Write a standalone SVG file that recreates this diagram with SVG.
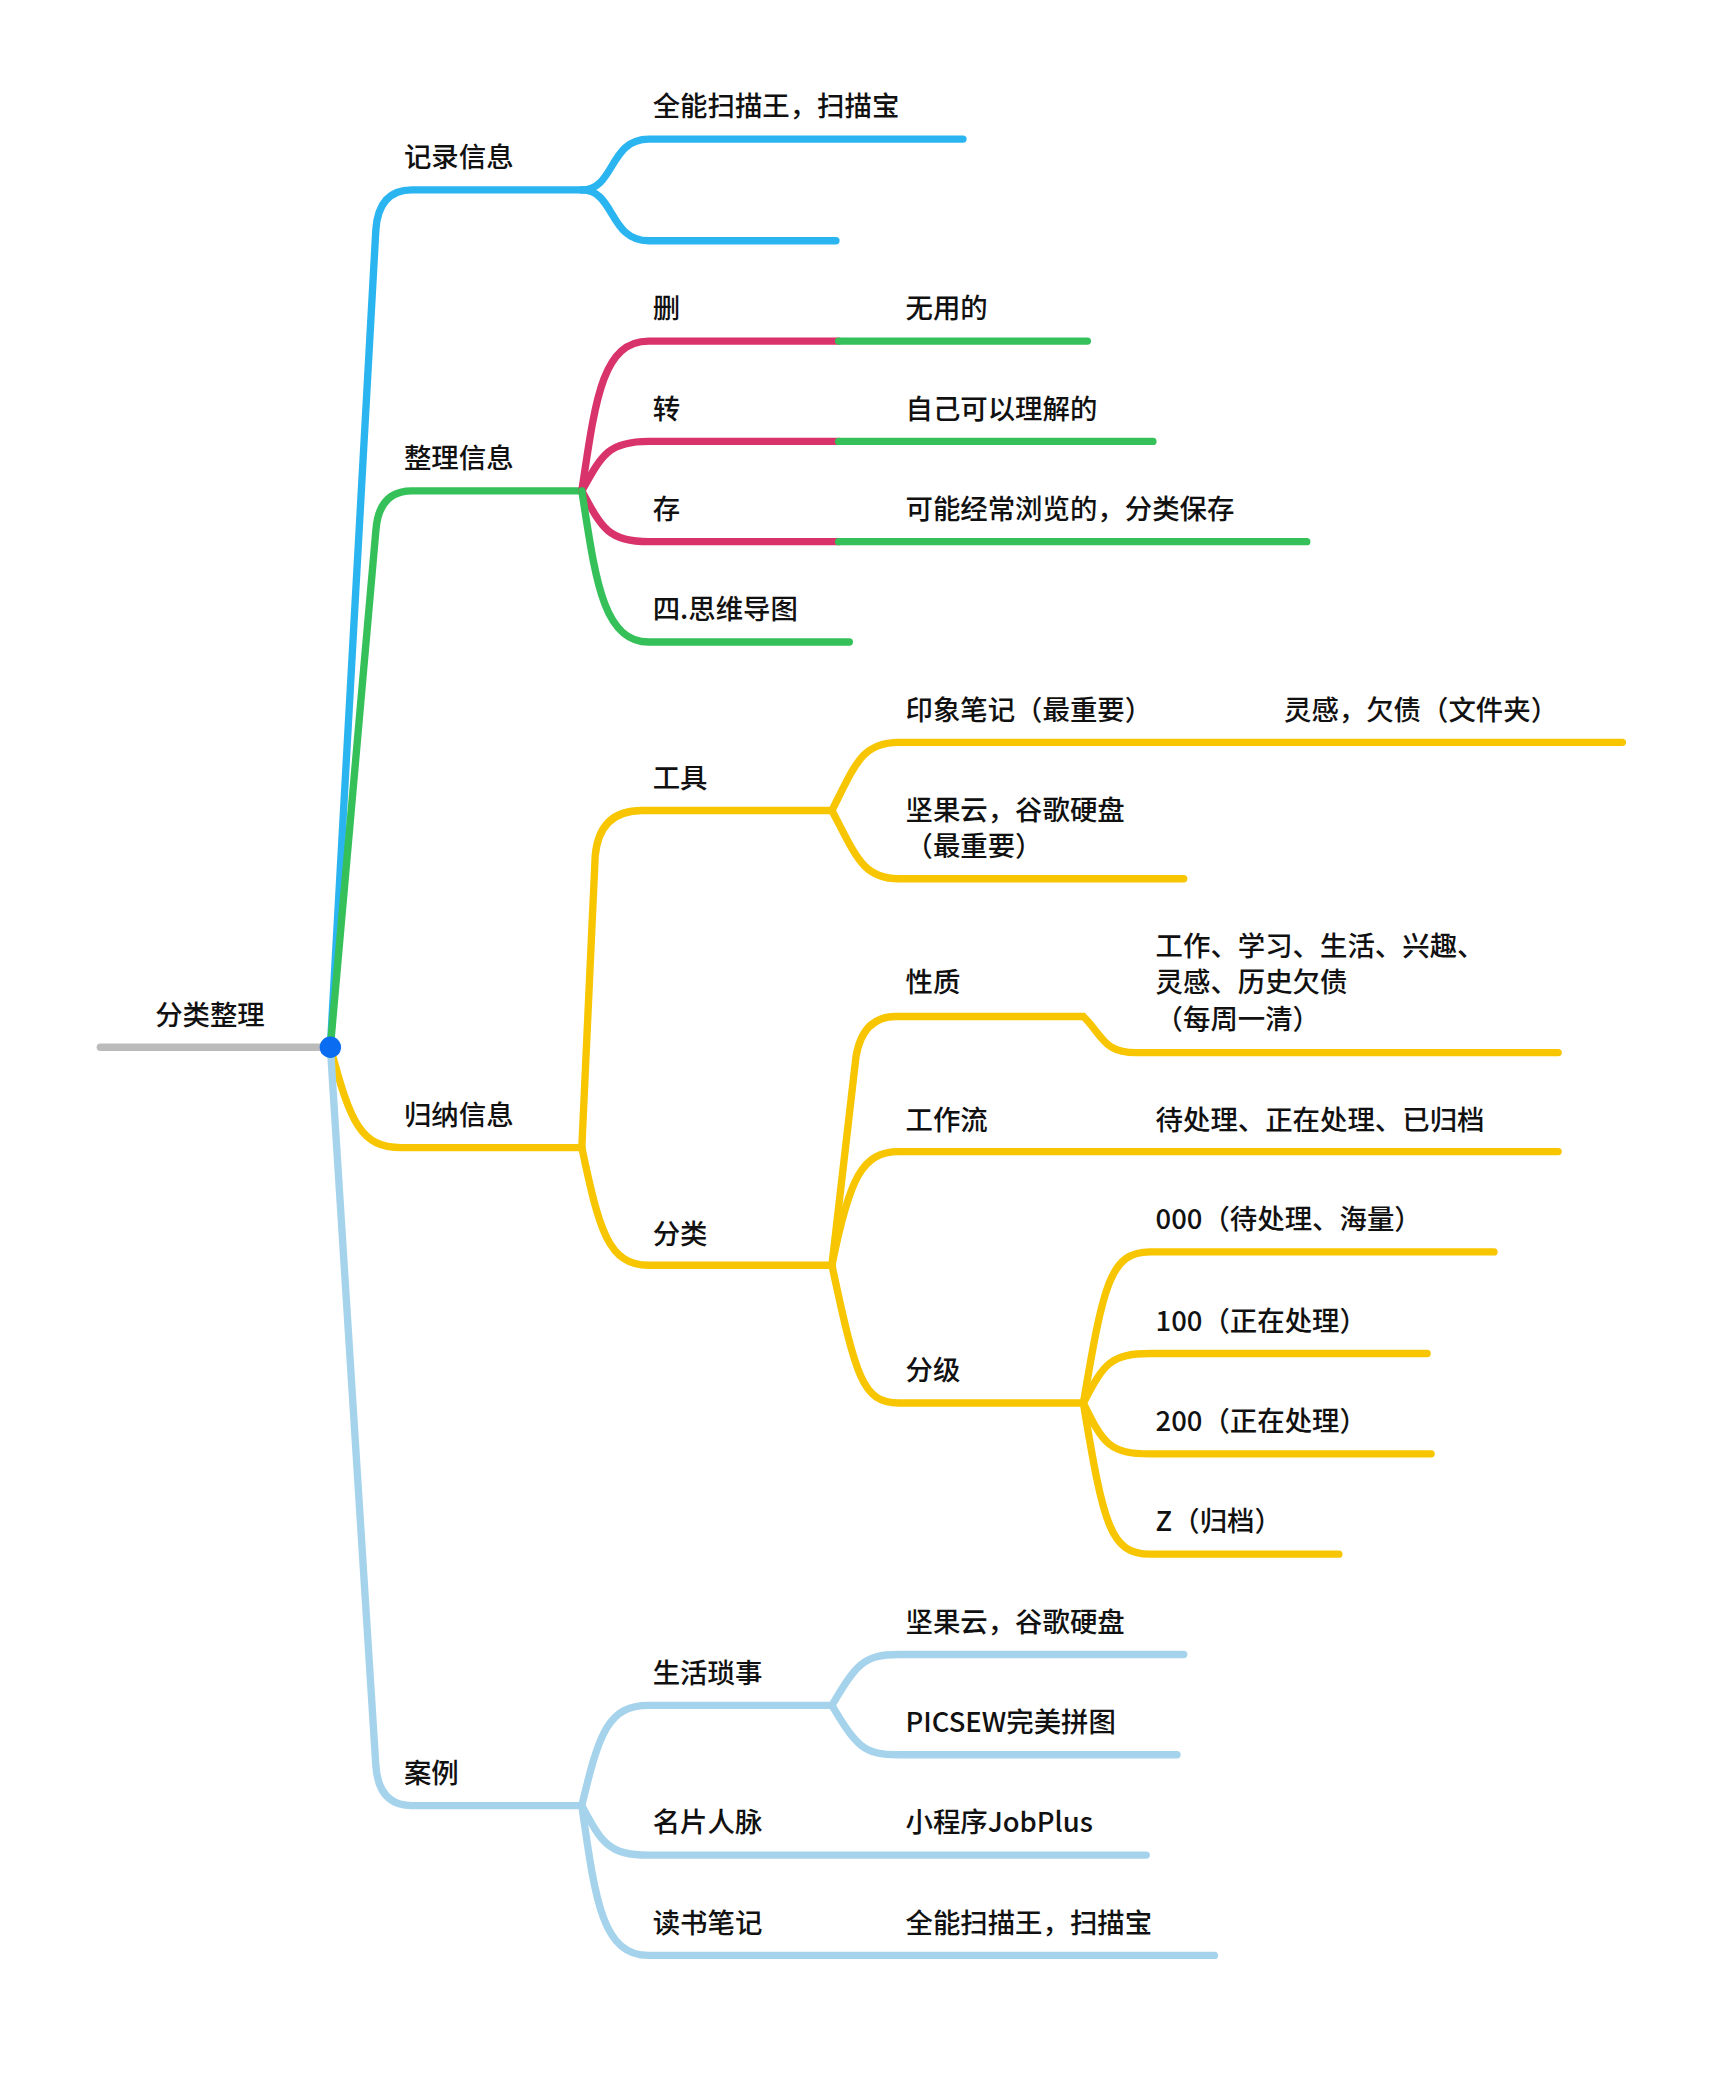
<svg xmlns="http://www.w3.org/2000/svg" width="1712" height="2088" viewBox="0 0 1712 2088">
<style>
path{fill:none;stroke-width:5.5;stroke-linecap:round}
.b{stroke:#2bb5f0}.g{stroke:#35c05a}.r{stroke:#d8336a}.y{stroke:#f7c600}.l{stroke:#a6d3ec}
text{font-family:"Noto Sans CJK SC","Noto Sans",sans-serif;font-size:20.5px;fill:#111;font-weight:500}
</style>
<rect width="1712" height="2088" fill="#fff"/>
<g transform="scale(1.3375)">
<g id="connectors">
<path d="M75,783 L247,783" stroke="#bbbbbb" stroke-width="6"/>
<path class="b" d="M247,783 L281,172 Q283,142 308,142 L435,142"/>
<path class="g" d="M247,783 L281,397 Q283,367 308,367 L435,367"/>
<path class="y" d="M247,783 C262,840 270,858 300,858 L435,858"/>
<path class="l" d="M247,783 L281,1320 Q283,1350 308,1350 L435,1350"/>
<path class="b" d="M435,142 C460,142 455,104 485,104 L720,104"/>
<path class="b" d="M435,142 C460,142 455,180 485,180 L625,180"/>
<path class="r" d="M435,367 C445,300 450,255 485,255 L627,255"/><path class="g" d="M627,255 L813,255"/>
<path class="r" d="M435,367 C450,340 455,330 485,330 L627,330"/><path class="g" d="M627,330 L862,330"/>
<path class="r" d="M435,367 C450,395 455,405 485,405 L627,405"/><path class="g" d="M627,405 L977,405"/>
<path class="g" d="M435,367 C445,430 450,480 485,480 L635,480"/>
<path class="y" d="M435,858 L445,640 Q448,606 480,606 L622,606"/>
<path class="y" d="M435,858 C448,920 455,946 485,946 L622,946"/>
<path class="y" d="M622,606 C640,570 645,555 672,555 L1213,555"/>
<path class="y" d="M622,606 C640,640 645,657 672,657 L885,657"/>
<path class="y" d="M622,946 L640,790 Q645,760 670,760 L810,760 C825,775 825,787 850,787 L1165,787"/>
<path class="y" d="M622,946 C635,880 645,861 672,861 L1165,861"/>
<path class="y" d="M622,946 C640,1030 645,1049 672,1049 L810,1049"/>
<path class="y" d="M810,1049 C825,960 830,936 860,936 L1117,936"/>
<path class="y" d="M810,1049 C825,1020 830,1012 860,1012 L1067,1012"/>
<path class="y" d="M810,1049 C825,1080 830,1087 860,1087 L1070,1087"/>
<path class="y" d="M810,1049 C825,1140 830,1162 860,1162 L1001,1162"/>
<path class="l" d="M435,1350 C448,1295 455,1275 485,1275 L622,1275"/>
<path class="l" d="M622,1275 C640,1245 645,1237 672,1237 L885,1237"/>
<path class="l" d="M622,1275 C640,1305 645,1312 672,1312 L880,1312"/>
<path class="l" d="M435,1350 C450,1378 455,1387 485,1387 L857,1387"/>
<path class="l" d="M435,1350 C445,1420 450,1462 485,1462 L908,1462"/>
<circle cx="247" cy="783" r="8" fill="#0a6cf0"/>
</g>
<g id="root"><text x="116" y="766">分类整理</text></g>
<g id="n1"><text x="302" y="125">记录信息</text><text x="488" y="87">全能扫描王，扫描宝</text></g>
<g id="n2"><text x="302" y="350">整理信息</text>
<text x="488" y="238">删</text><text x="677" y="238">无用的</text>
<text x="488" y="313">转</text><text x="677" y="313">自己可以理解的</text>
<text x="488" y="388">存</text><text x="677" y="388">可能经常浏览的，分类保存</text>
<text x="488" y="463">四.思维导图</text></g>
<g id="n3"><text x="302" y="841">归纳信息</text>
<text x="488" y="589">工具</text><text x="677" y="538">印象笔记（最重要）</text><text x="960" y="538">灵感，欠债（文件夹）</text>
<text x="677" y="613">坚果云，谷歌硬盘</text><text x="677" y="640">（最重要）</text>
<text x="488" y="930">分类</text>
<text x="677" y="742">性质</text><text x="864" y="715">工作、学习、生活、兴趣、</text><text x="864" y="742">灵感、历史欠债</text><text x="864" y="769">（每周一清）</text>
<text x="677" y="845">工作流</text><text x="864" y="845">待处理、正在处理、已归档</text>
<text x="677" y="1032">分级</text>
<text x="864" y="919">000（待处理、海量）</text>
<text x="864" y="995">100（正在处理）</text>
<text x="864" y="1070">200（正在处理）</text>
<text x="864" y="1145">Z（归档）</text></g>
<g id="n4"><text x="302" y="1333">案例</text>
<text x="488" y="1258">生活琐事</text><text x="677" y="1220">坚果云，谷歌硬盘</text><text x="677" y="1295">PICSEW完美拼图</text>
<text x="488" y="1370">名片人脉</text><text x="677" y="1370">小程序JobPlus</text>
<text x="488" y="1445">读书笔记</text><text x="677" y="1445">全能扫描王，扫描宝</text></g>
</g>
</svg>
